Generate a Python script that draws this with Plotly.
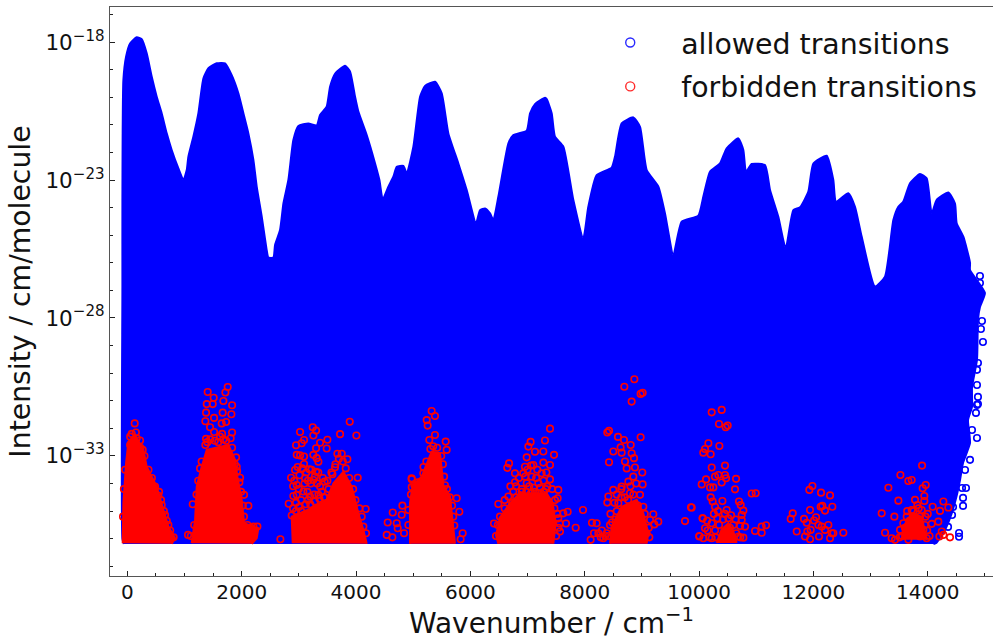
import plotly.graph_objects as go

# (wavenumber / cm-1, log10 intensity)
allowed_envelope = [(-60,-36.19),(-86,-36.0),(-86,-26.86),(-86,-23.72),(-69,-19.38),(-22,-18.53),(48,-18.05),(164,-17.83),(252,-17.90),(339,-18.41),(427,-19.26),(514,-19.98),(602,-20.59),(689,-21.31),(776,-21.91),(893,-22.58),(981,-23.00),(1039,-22.64),(1068,-22.15),(1155,-21.43),(1243,-20.58),(1330,-19.32),(1418,-18.95),(1564,-18.77),(1709,-18.77),(1826,-19.20),(1942,-19.86),(2030,-20.58),(2117,-21.31),(2205,-22.27),(2263,-23.24),(2351,-24.33),(2438,-25.54),(2467,-25.81),(2555,-25.81),(2584,-25.35),(2671,-24.81),(2730,-23.85),(2817,-23.00),(2904,-21.55),(2992,-21.04),(3167,-20.95),(3313,-21.02),(3371,-20.64),(3487,-20.34),(3546,-19.62),(3633,-19.15),(3808,-18.86),(3896,-19.07),(3983,-19.98),(4041,-20.52),(4187,-21.37),(4333,-22.40),(4409,-23.00),(4467,-23.70),(4566,-23.24),(4653,-22.88),(4712,-22.52),(4828,-22.49),(4887,-22.76),(5003,-21.79),(5120,-19.98),(5207,-19.59),(5382,-19.44),(5499,-19.86),(5615,-21.31),(5790,-22.40),(5936,-23.36),(6099,-24.57),(6169,-24.09),(6257,-24.03),(6344,-24.21),(6402,-24.45),(6490,-23.60),(6665,-21.67),(6752,-21.37),(6985,-21.21),(7044,-20.58),(7131,-20.25),(7306,-20.02),(7335,-20.07),(7422,-20.58),(7480,-21.43),(7626,-21.79),(7801,-23.72),(7976,-25.11),(8063,-23.97),(8209,-22.82),(8471,-22.55),(8530,-22.15),(8646,-20.95),(8850,-20.73),(8967,-21.07),(9084,-22.64),(9288,-23.24),(9404,-24.21),(9550,-25.72),(9696,-24.51),(9987,-24.29),(10075,-23.60),(10191,-22.70),(10366,-22.40),(10483,-21.85),(10687,-21.49),(10774,-21.91),(10821,-22.70),(10920,-22.42),(11153,-22.46),(11241,-23.36),(11386,-24.33),(11515,-25.48),(11649,-24.09),(11765,-23.99),(11911,-23.42),(11999,-22.40),(12232,-22.12),(12348,-23.00),(12395,-23.78),(12611,-23.48),(12727,-23.97),(12844,-25.05),(13077,-26.86),(13252,-26.50),(13398,-24.45),(13485,-23.97),(13573,-23.78),(13689,-23.12),(13864,-22.78),(13981,-22.94),(14069,-24.21),(14156,-23.72),(14360,-23.45),(14476,-23.85),(14506,-24.57),(14622,-25.05),(14739,-26.00),(14739,-26.26),(15000,-27.09),(14913,-27.60),(14878,-28.07),(14861,-29.52),(14774,-30.50),(14774,-31.22),(14704,-31.70),(14739,-32.53),(14617,-33.25),(14564,-33.87),(14500,-34.49),(14420,-35.07),(14300,-35.68),(14150,-36.15),(14100,-36.19)]

allowed_outliers = [(14913,-26.48),(14913,-26.73),(14948,-28.11),(14930,-28.40),(14965,-28.87),(14878,-29.63),(14861,-29.88),(14861,-30.43),(14878,-30.86),(14861,-31.15),(14878,-31.12),(14843,-31.44),(14774,-32.06),(14861,-32.35),(14739,-33.14),(14652,-33.51),(14669,-34.16),(14600,-34.16),(14617,-34.81),(14617,-34.52),(14442,-34.85),(14355,-35.57),(14547,-35.79),(14547,-35.93),(14425,-35.14),(14302,-35.25)]

forbidden_cores = [
    [(-81,-36.16),(-69,-34.71),(-22,-33.27),(19,-32.48),(135,-32.24),(281,-32.78),(339,-33.39),(514,-34.11),(631,-34.96),(718,-35.56),(835,-35.98),(776,-36.18)],
    [(1126,-36.16),(1185,-35.32),(1214,-34.11),(1301,-33.39),(1389,-32.78),(1768,-32.60),(1884,-33.14),(1925,-33.75),(2001,-34.59),(2042,-35.44),(2292,-35.62),(2263,-35.98),(2176,-36.18)],
    [(2893,-36.16),(2875,-35.20),(3138,-34.96),(3487,-34.59),(3604,-33.99),(3779,-33.57),(3925,-34.11),(4041,-35.08),(4129,-35.68),(4187,-36.18)],
    [(4944,-36.18),(4944,-34.71),(4991,-34.05),(5148,-33.75),(5265,-33.14),(5323,-32.84),(5469,-32.90),(5498,-33.39),(5527,-34.05),(5644,-34.47),(5690,-35.32),(5731,-36.18)],
    [(6489,-36.18),(6448,-35.86),(6530,-35.20),(6693,-34.71),(6868,-34.35),(7334,-34.35),(7439,-34.71),(7492,-35.44),(7451,-36.18)],
    [(8442,-36.18),(8471,-35.56),(8646,-34.84),(8908,-34.59),(9025,-35.08),(9112,-35.80),(9083,-36.18)],
    [(10308,-36.15),(10396,-35.66),(10512,-35.44),(10600,-35.74),(10658,-36.15)],
    [(13544,-36.04),(13573,-35.56),(13719,-35.08),(13894,-35.20),(13981,-36.04)],
]

forbidden_band_0 = [(129,-31.82),(77,-32.20),(164,-32.36),(223,-32.44),(269,-32.78),(48,-32.60),(485,-34.11),(543,-34.44),(602,-34.78),(660,-35.14),(718,-35.50),(759,-35.98),(50,-32.3),(150,-32.15),(230,-32.7),(300,-33.0),(370,-33.5),(430,-33.8),(555,-34.3),(590,-34.6),(640,-35.0),(690,-35.35),(750,-35.7),(810,-35.95),(-40,-33.5),(-60,-34.2),(-75,-35.2)]
forbidden_band_1 = [(1756,-30.50),(1406,-30.68),(1715,-30.70),(1511,-30.89),(1680,-31.01),(1389,-31.12),(1494,-31.12),(1832,-31.16),(1377,-31.43),(1668,-31.43),(1820,-31.49),(1365,-31.74),(1517,-31.62),(1727,-31.77),(1651,-31.82),(1447,-31.96),(1517,-32.13),(1832,-32.15),(1657,-32.20),(1377,-32.38),(1808,-32.36),(1622,-32.30),(1365,-32.60),(1832,-32.70),(1902,-33.05),(1972,-33.79),(2042,-34.41),(2117,-34.81),(1144,-34.75),(1062,-35.86),(2205,-35.56),(2275,-35.56),(2088,-35.62),(1913,-33.39),(1272,-33.45),(2677,-36.02),(1400,-32.5),(1450,-32.4),(1530,-32.45),(1590,-32.5),(1680,-32.4),(1730,-32.45),(1300,-33.2),(1240,-33.9),(1210,-34.4),(1880,-33.3),(1920,-33.55),(1960,-33.95),(1990,-34.3),(2020,-34.8),(2040,-35.2),(2100,-35.5),(2160,-35.6),(1170,-35.5),(1110,-35.9)]
forbidden_band_2 = [(3021,-32.13),(3243,-31.96),(3301,-32.08),(3254,-32.26),(3091,-32.42),(3050,-32.54),(2951,-32.61),(3371,-32.52),(3499,-32.41),(3487,-32.73),(3301,-32.72),(3254,-32.96),(3313,-33.08),(3342,-33.21),(2963,-32.96),(3091,-33.02),(3021,-32.98),(3091,-33.29),(2934,-33.51),(3184,-33.48),(3301,-33.57),(2864,-33.79),(2963,-34.05),(3108,-33.81),(3254,-33.87),(3371,-34.11),(3452,-33.93),(2963,-34.41),(3079,-34.29),(3196,-34.47),(3342,-34.41),(2823,-34.73),(2904,-34.45),(3721,-32.21),(3890,-31.76),(4006,-32.26),(3674,-32.92),(3750,-32.92),(3849,-33.12),(3633,-33.41),(3587,-33.66),(4030,-33.79),(4169,-34.92),(4175,-35.80),(4129,-35.56),(2875,-35.16),(2900,-34.1),(2950,-34.7),(3000,-34.2),(3040,-34.6),(3100,-34.0),(3150,-34.3),(3210,-34.0),(3270,-34.4),(3320,-34.0),(3400,-34.3),(3450,-34.5),(3520,-34.2),(2920,-33.9),(3010,-33.7),(3130,-33.6),(3220,-33.5),(3340,-33.6),(3420,-33.8),(2980,-33.4),(3060,-33.45),(3160,-33.9),(3280,-33.75),(3500,-33.9),(3570,-33.6),(3640,-33.3),(3700,-33.1),(3770,-33.2),(3820,-33.45),(3880,-33.8),(3950,-34.2),(3990,-34.6),(4060,-34.9),(4100,-35.2),(2950,-35.0),(3040,-35.0),(3120,-34.75),(3200,-34.75),(3280,-34.65),(3360,-34.55),(3440,-34.5),(3000,-34.85),(2900,-34.9),(3160,-34.6)]
forbidden_band_3 = [(4554,-35.41),(4642,-35.05),(4811,-34.80),(4799,-35.13),(4712,-35.44),(4729,-35.62),(4840,-35.80),(4537,-35.86),(4636,-35.95),(4916,-34.96),(4974,-33.84),(4974,-34.13),(5062,-34.59),(4916,-35.50),(5323,-31.37),(5381,-31.55),(5236,-31.70),(5253,-31.90),(5381,-32.24),(5282,-32.42),(5568,-32.48),(5585,-32.78),(5556,-34.06),(5760,-34.53),(5807,-35.02),(5719,-35.52),(5865,-35.80),(5830,-36.02),(4973,-33.81),(5177,-33.63),(5180,-33.4),(5230,-33.2),(5300,-32.75),(5350,-32.65),(5420,-32.7),(5490,-33.0),(5520,-33.3),(5540,-33.75),(5590,-34.2),(5640,-34.5),(5680,-34.8),(5700,-35.2),(5080,-33.95),(5020,-34.05),(4960,-34.4)]
forbidden_band_4 = [(7393,-32.01),(7054,-32.49),(7014,-32.66),(7305,-32.44),(7130,-32.85),(7276,-32.84),(7463,-32.96),(6985,-33.05),(6676,-33.27),(6646,-33.43),(6780,-33.63),(6955,-33.39),(7101,-33.33),(7276,-33.24),(7393,-33.33),(6926,-33.63),(7072,-33.75),(7247,-33.63),(7393,-33.85),(6780,-33.95),(6985,-33.99),(7189,-33.99),(7346,-34.11),(7538,-34.23),(7527,-34.53),(6751,-34.29),(6664,-34.47),(6489,-34.74),(6518,-35.20),(6413,-35.45),(6448,-35.90),(7702,-35.02),(7626,-35.08),(7538,-35.26),(7672,-35.45),(7842,-35.60),(7567,-35.74),(6700,-34.1),(6800,-34.1),(6850,-33.8),(6900,-34.2),(6960,-33.75),(7030,-34.1),(7110,-34.15),(7150,-33.8),(7220,-34.15),(7280,-33.9),(7320,-34.2),(7000,-33.5),(7170,-33.5),(7060,-33.35),(7330,-33.6),(7430,-34.2),(7480,-34.6),(6600,-34.9),(6560,-35.3),(6480,-35.5),(6600,-34.6),(7470,-34.9),(7520,-35.1),(7560,-35.45),(7500,-35.9),(7540,-35.6),(6900,-34.3),(6980,-34.3),(7060,-34.35),(7130,-34.3),(7200,-34.35),(7280,-34.3),(6800,-34.5),(6730,-34.7)]
forbidden_band_5 = [(7970,-34.96),(8127,-35.42),(8209,-35.44),(8162,-35.80),(8238,-35.80),(8104,-36.04),(8325,-35.98),(8442,-35.50),(8384,-35.80),(8868,-30.22),(8693,-30.49),(9013,-30.71),(8978,-30.75),(8821,-31.03),(8425,-32.09),(8395,-32.15),(8582,-32.31),(8687,-32.42),(8978,-32.32),(8804,-32.60),(8628,-32.69),(8500,-32.84),(8646,-32.88),(8821,-32.90),(8425,-33.23),(8704,-33.20),(8862,-33.08),(8734,-33.45),(8879,-33.42),(9007,-33.60),(8850,-33.75),(8763,-33.93),(9013,-34.03),(8646,-34.11),(8500,-34.23),(8967,-34.41),(8792,-34.35),(8413,-34.47),(8395,-34.69),(8588,-34.71),(9025,-34.84),(9200,-35.11),(9287,-35.38),(9142,-35.32),(9217,-35.48),(9083,-35.80),(9859,-34.86),(9754,-35.36),(10063,-35.26),(10004,-35.92),(8450,-35.1),(8520,-34.7),(8480,-35.4),(8560,-35.0),(8640,-34.5),(8700,-34.5),(8760,-34.6),(8850,-34.4),(8930,-34.8),(9050,-35.1),(9120,-35.6),(9000,-35.4),(8300,-35.7),(8360,-35.9),(8420,-35.9),(8280,-35.95),(9130,-35.95),(8540,-35.3),(8800,-34.1),(8900,-34.0),(8560,-34.4),(8640,-34.2)]
forbidden_band_6 = [(10396,-31.33),(10221,-31.42),(10349,-31.84),(10501,-31.90),(10466,-31.96),(10163,-32.54),(10355,-32.64),(10104,-32.75),(10075,-32.88),(10203,-32.94),(10454,-33.35),(10221,-33.42),(10338,-33.69),(10279,-33.75),(10454,-33.69),(10472,-33.81),(10122,-33.85),(10647,-33.83),(10046,-34.03),(10396,-33.96),(10192,-34.14),(10250,-34.14),(10629,-34.21),(10921,-34.36),(10990,-34.35),(10203,-34.50),(10238,-34.65),(10408,-34.63),(10699,-34.65),(10728,-34.78),(9871,-34.87),(10279,-34.84),(10775,-34.98),(10483,-34.96),(10063,-35.26),(10746,-35.14),(10320,-35.26),(10512,-35.26),(10746,-35.32),(10717,-35.54),(10804,-35.56),(10221,-35.44),(10104,-35.62),(11171,-35.51),(11095,-35.56),(10979,-35.72),(11095,-35.78),(10005,-35.90),(10075,-35.98),(10221,-35.98),(10775,-35.96),(10687,-35.92),(10150,-35.7),(10180,-35.95),(10280,-35.7),(10290,-35.95),(10350,-35.5),(10420,-35.3),(10540,-35.6),(10600,-35.5),(10650,-35.8),(10720,-35.95),(10450,-35.1),(10330,-35.0),(10140,-35.35),(10260,-35.1),(10560,-35.15),(10640,-35.3)]
forbidden_band_7 = [(11982,-34.09),(11929,-34.23),(12133,-34.33),(12291,-34.43),(12156,-34.81),(12127,-34.84),(12331,-34.84),(12203,-34.98),(11941,-34.96),(11638,-35.08),(11603,-35.28),(11836,-35.28),(12046,-35.22),(11883,-35.42),(12011,-35.34),(12087,-35.50),(12261,-35.50),(11708,-35.74),(11894,-35.74),(12524,-35.78),(12349,-35.80),(12203,-35.68),(11853,-35.92),(11941,-36.02),(12098,-35.92),(12291,-35.98),(12320,-35.80),(12145,-35.56),(11952,-35.68)]
forbidden_band_8 = [(13900,-33.35),(13521,-33.69),(13719,-33.87),(13661,-33.91),(13964,-34.05),(13911,-34.17),(13311,-34.15),(13940,-34.45),(13486,-34.62),(13940,-34.63),(13777,-34.59),(13818,-34.78),(14086,-34.84),(14273,-34.65),(14360,-34.87),(14214,-34.99),(13719,-34.96),(13894,-34.96),(13194,-35.08),(13416,-35.20),(13632,-35.20),(13865,-35.20),(14185,-35.38),(14069,-35.46),(13573,-35.44),(13748,-35.38),(13253,-35.78),(13515,-35.68),(13661,-35.68),(13807,-35.68),(13923,-35.68),(14244,-35.74),(14203,-35.92),(14389,-35.95),(14273,-35.86),(13369,-35.98),(13428,-36.04),(13661,-36.04),(13865,-35.92),(13981,-35.98),(13550,-35.9),(13600,-35.6),(13680,-35.35),(13760,-35.2),(13840,-35.4),(13950,-35.5),(13990,-35.7),(14030,-35.9),(13750,-35.0),(13840,-34.9),(13780,-35.8),(13510,-35.95),(13640,-35.0),(13960,-35.2),(14000,-35.1)]

x_ticks = [0, 2000, 4000, 6000, 8000, 10000, 12000, 14000]
y_tick_exponents = [-18, -23, -28, -33]
y_minor_exponents = list(range(-37, -16))

BLUE = "#0000ff"
RED = "#ff0000"
SPINE = "#555555"
FONT = "DejaVu Sans"


def xs(points):
    return [p[0] for p in points]


def ys(points):
    return [10.0 ** p[1] for p in points]


fig = go.Figure()

fig.add_trace(go.Scatter(
    x=xs(allowed_envelope), y=ys(allowed_envelope), mode="lines", fill="toself",
    fillcolor=BLUE, line=dict(color=BLUE, width=2, shape="spline", smoothing=0.5),
    showlegend=False, hoverinfo="skip"))

fig.add_trace(go.Scatter(
    x=xs(allowed_outliers), y=ys(allowed_outliers), mode="markers", showlegend=False,
    marker=dict(symbol="circle-open", size=6.5, color=BLUE, line=dict(width=1.6))))

core_x, core_y = [], []
for clump in forbidden_cores:
    core_x += xs(clump) + [None]
    core_y += ys(clump) + [None]
fig.add_trace(go.Scatter(
    x=core_x, y=core_y, mode="lines", fill="toself", fillcolor=RED,
    line=dict(color=RED, width=2), showlegend=False, hoverinfo="skip"))

forbidden_points = (forbidden_band_0 + forbidden_band_1 + forbidden_band_2 + forbidden_band_3
                    + forbidden_band_4 + forbidden_band_5 + forbidden_band_6 + forbidden_band_7
                    + forbidden_band_8)
fig.add_trace(go.Scatter(
    x=xs(forbidden_points), y=ys(forbidden_points), mode="markers", showlegend=False,
    marker=dict(symbol="circle-open", size=6.5, color=RED, line=dict(width=1.6))))

# legend keys
fig.add_trace(go.Scatter(
    x=[None], y=[None], mode="markers", name="allowed transitions", legendgroup="a",
    marker=dict(symbol="circle-open", size=9, color="#2a2aff", line=dict(width=1.4))))
fig.add_trace(go.Scatter(
    x=[None], y=[None], mode="markers", name="forbidden transitions", legendgroup="f",
    marker=dict(symbol="circle-open", size=9, color="#ff2a2a", line=dict(width=1.4))))

fig.update_layout(
    width=993, height=640, autosize=False,
    margin=dict(l=110, r=0, t=7, b=64),
    paper_bgcolor="white", plot_bgcolor="white",
    font=dict(family=FONT, color="#111111", size=20),
    xaxis=dict(
        range=[-303, 15141], showgrid=False, zeroline=False, showline=True, mirror=True,
        linecolor=SPINE, linewidth=1.3, tickmode="array", tickvals=x_ticks,
        ticktext=[str(v) for v in x_ticks], ticks="inside", ticklen=5, tickwidth=1,
        tickcolor="#222222", tickfont=dict(size=20), ticklabelstandoff=-2,
        minor=dict(dtick=500, tick0=0, ticks="inside", ticklen=3, tickwidth=1,
                   tickcolor="#222222", showgrid=False),
        title=dict(text="\u00a0Wavenumber / cm<sup>−1</sup>", font=dict(size=28), standoff=14),
    ),
    yaxis=dict(
        type="log", range=[-37.35, -16.73], showgrid=False, zeroline=False, showline=True,
        mirror=True, linecolor=SPINE, linewidth=1.3, tickmode="array",
        tickvals=[10.0 ** e for e in y_tick_exponents],
        ticktext=[f"10<sup>−{abs(e)}</sup>" for e in y_tick_exponents],
        ticks="inside", ticklen=5, tickwidth=1, tickcolor="#222222", tickfont=dict(size=21.5),
        minor=dict(tickmode="array", tickvals=[10.0 ** e for e in y_minor_exponents],
                   ticks="inside", ticklen=3, tickwidth=1, tickcolor="#222222", showgrid=False),
        title=dict(text="Intensity / cm/molecule", font=dict(size=28.3), standoff=6),
    ),
    legend=dict(
        x=0.5314, y=0.9815, xanchor="left", yanchor="top", bgcolor="rgba(0,0,0,0)",
        borderwidth=0, font=dict(size=28.4), itemwidth=92, tracegroupgap=4, itemclick=False,
    ),
    showlegend=True,
)

fig.write_html("out.html", config=dict(displayModeBar=False),
               post_script="document.body.style.margin='0';document.body.style.overflow='hidden';")
